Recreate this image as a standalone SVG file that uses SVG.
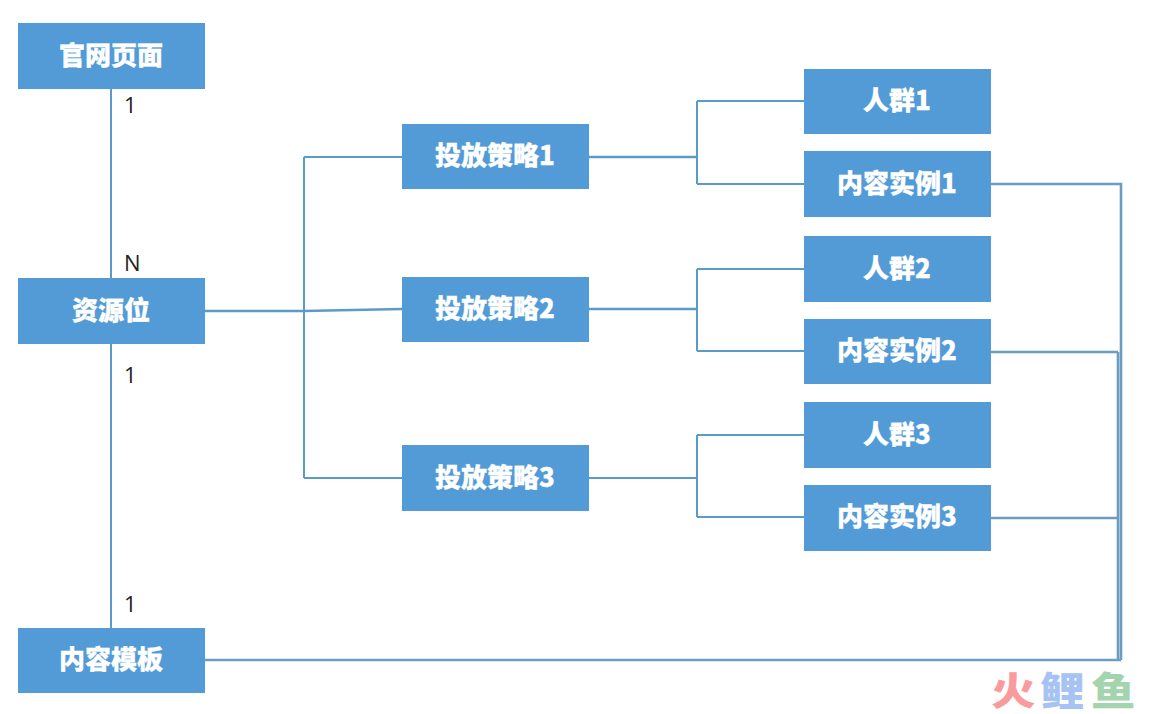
<svg xmlns="http://www.w3.org/2000/svg" width="1160" height="714" viewBox="0 0 1160 714">
<style>
.box{fill:#529bd7}
.t{font-family:"Noto Sans CJK SC","Noto Sans",sans-serif;font-weight:900;font-size:26px;fill:#fff;text-anchor:middle;stroke:#fff;stroke-width:.3px}
.l{font-family:"Open Sans","Noto Sans",sans-serif;font-size:22px;fill:#222}
.c{fill:none;stroke:#5a9cc9;stroke-width:2}
.b{stroke-width:2.6}
.d{stroke:#6b9cc2;stroke-width:2.6}
.w{font-family:"Noto Sans CJK SC",sans-serif;font-weight:900;font-size:39px}
</style>
<rect width="1160" height="714" fill="#fff"/>
<g id="connectors">
<path class="c" d="M111 89V278M111 344V628"/>
<path class="c" d="M304 157H402M304 478H402M304 157V478"/>
<path class="c b" d="M205 311H304L402 309"/>
<path class="c" d="M697 101V184M697 101H804M697 184H804"/>
<path class="c b" d="M589 157H697"/>
<path class="c" d="M697 269V351M697 269H804M697 351H804"/>
<path class="c b" d="M589 309H697"/>
<path class="c" d="M589 478H697M697 435V517M697 435H804M697 517H804"/>
<path class="c d" d="M991 184H1121V660M991 352H1118M991 518H1118M1118 352V660M205 660H1121"/>
</g>
<g id="n1"><rect class="box" x="18" y="23" width="187" height="66"/><text class="t" x="111" y="65">官网页面</text></g>
<g id="n2"><rect class="box" x="18" y="278" width="187" height="66"/><text class="t" x="111" y="320">资源位</text></g>
<g id="n3"><rect class="box" x="18" y="628" width="187" height="65"/><text class="t" x="111" y="669">内容模板</text></g>
<g id="s1"><rect class="box" x="402" y="124" width="187" height="65"/><text class="t" x="495" y="165">投放策略1</text></g>
<g id="s2"><rect class="box" x="402" y="277" width="187" height="65"/><text class="t" x="495" y="318">投放策略2</text></g>
<g id="s3"><rect class="box" x="402" y="445" width="187" height="66"/><text class="t" x="495" y="487">投放策略3</text></g>
<g id="p1"><rect class="box" x="804" y="69" width="187" height="65"/><text class="t" x="897" y="110">人群1</text></g>
<g id="c1"><rect class="box" x="804" y="151" width="187" height="66"/><text class="t" x="897" y="193">内容实例1</text></g>
<g id="p2"><rect class="box" x="804" y="236" width="187" height="66"/><text class="t" x="897" y="278">人群2</text></g>
<g id="c2"><rect class="box" x="804" y="319" width="187" height="65"/><text class="t" x="897" y="360">内容实例2</text></g>
<g id="p3"><rect class="box" x="804" y="402" width="187" height="66"/><text class="t" x="897" y="444">人群3</text></g>
<g id="c3"><rect class="box" x="804" y="485" width="187" height="66"/><text class="t" x="897" y="526">内容实例3</text></g>
<g id="labels">
<text class="l" x="124" y="113">1</text>
<text class="l" x="124" y="271">N</text>
<text class="l" x="124" y="383">1</text>
<text class="l" x="124" y="612">1</text>
</g>
<g id="watermark">
<text class="w" transform="translate(991 705) scale(1.14 1)" fill="#fb9a9c">火</text>
<text class="w" transform="translate(1040 705) scale(1.14 1)" fill="#a6c3f3">鲤</text>
<text class="w" transform="translate(1091 705) scale(1.14 1)" fill="#a3d4ae">鱼</text>
</g>
</svg>
